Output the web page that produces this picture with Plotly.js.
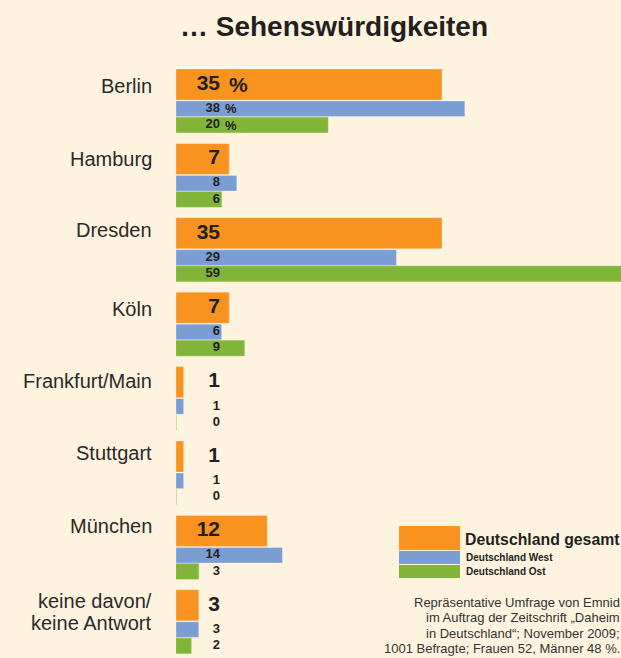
<!DOCTYPE html>
<html>
<head>
<meta charset="utf-8">
<script src="https://cdn.plot.ly/plotly-3.0.1.min.js"></script>
<style>
html,body{margin:0;padding:0;background:#fef3de;}
#chart{width:621px;height:658px;}
</style>
</head>
<body>
<div id="chart"></div>
<script>
// ---- data ----
const categories = ["Berlin", "Hamburg", "Dresden", "Köln", "Frankfurt/Main", "Stuttgart", "München", "keine davon/<br>keine Antwort"];
const gesamt = [35, 7, 35, 7, 1, 1, 12, 3];
const west   = [38, 8, 29, 6, 1, 1, 14, 3];
const ost    = [20, 6, 59, 9, 0, 0, 3, 2];
const seriesNames = ["Deutschland gesamt", "Deutschland West", "Deutschland Ost"];
const titleText = "… Sehenswürdigkeiten";
const noteLines = ["Repräsentative Umfrage von Emnid", "im Auftrag der Zeitschrift „Daheim", "in Deutschland“; November 2009;", "1001 Befragte; Frauen 52, Männer 48 %."];

// ---- styling / geometry ----
const W = 621, H = 658, ML = 176;
const PXU = 7.6;                     // pixels per percent
const ROW = 74.4;                    // pixels per category
const FIRST = 84.5;                  // pixel centre of first orange bar
const colors = ["#f7931e", "#7a9ed3", "#80b53a"];
const offsets = [0, 24.3 / ROW, 40.5 / ROW];
const widths = [31 / ROW, 15.6 / ROW, 15.4 / ROW];
const labelNudge = [1, 0, -3.8, 1, -1.5, -3.5, -5, -4.5];   // px, vertical nudge of category labels
const labelLineGap = 22.5;
const labelX = (220 - ML) / PXU;
const yTop = -FIRST / ROW;
const yBot = (H - FIRST) / ROW;
const px2x = p => (p - ML) / (W - ML);
const px2y = p => 1 - p / H;
const font = "Liberation Sans, Arial, Helvetica, sans-serif";
const ink = "#231f20";

const seriesVals = [gesamt, west, ost];
const traces = [];
seriesVals.forEach((vals, s) => {
  traces.push({
    type: "bar", orientation: "h", name: seriesNames[s],
    x: vals, y: categories.map((c, i) => i + offsets[s]),
    width: widths[s], base: 0,
    marker: {color: colors[s], line: {width: 0.8, color: s === 2 ? "rgba(150,200,90,0.7)" : "rgba(255,255,255,0.35)"}},
    hoverinfo: "skip", showlegend: false
  });
});
seriesVals.forEach((vals, s) => {
  traces.push({
    type: "scatter", mode: "text",
    x: vals.map(() => labelX), y: categories.map((c, i) => i + offsets[s]),
    text: vals.map(String), textposition: "middle left",
    textfont: {family: font, size: s === 0 ? 21 : 13, color: ink, weight: "bold"},
    cliponaxis: false, hoverinfo: "skip", showlegend: false
  });
});

const annotations = [];
// percent suffix on first row
seriesVals.forEach((vals, s) => {
  annotations.push({
    xref: "x", yref: "y", x: labelX, y: 0 + offsets[s], text: "%",
    xanchor: "left", yanchor: "middle", showarrow: false,
    xshift: s === 0 ? 7 : 3,
    font: {family: font, size: s === 0 ? 21 : 13, color: ink, weight: "bold"}
  });
});
// category labels
categories.forEach((c, i) => {
  const lines = c.split("<br>");
  lines.forEach((ln, k) => {
    const off = labelNudge[i] + k * labelLineGap;
    annotations.push({
      xref: "paper", yref: "y", x: px2x(154), y: i, yshift: -off,
      text: ln, xanchor: "right", yanchor: "middle", showarrow: false,
      font: {family: font, size: 20, color: "#2a2a2a"}
    });
  });
});
// legend texts
annotations.push({xref: "paper", yref: "paper", x: px2x(463), y: px2y(539), text: seriesNames[0], xanchor: "left", yanchor: "middle", showarrow: false, font: {family: font, size: 15.8, color: ink, weight: "bold"}});
annotations.push({xref: "paper", yref: "paper", x: px2x(464), y: px2y(557), text: seriesNames[1], xanchor: "left", yanchor: "middle", showarrow: false, font: {family: font, size: 10, color: ink, weight: "bold"}});
annotations.push({xref: "paper", yref: "paper", x: px2x(464), y: px2y(571), text: seriesNames[2], xanchor: "left", yanchor: "middle", showarrow: false, font: {family: font, size: 10, color: ink, weight: "bold"}});
// note
const noteY = [602, 617.5, 633, 648.5];
noteLines.forEach((t, k) => {
  annotations.push({xref: "paper", yref: "paper", x: px2x(622), y: px2y(noteY[k]), text: t,
    xanchor: "right", yanchor: "middle", showarrow: false, font: {family: font, size: 13, color: "#333"}});
});

const shapes = [
  {type: "rect", xref: "paper", yref: "paper", x0: px2x(399), x1: px2x(460), y0: px2y(526), y1: px2y(550), fillcolor: colors[0], line: {width: 0}},
  {type: "rect", xref: "paper", yref: "paper", x0: px2x(399), x1: px2x(460), y0: px2y(551), y1: px2y(564), fillcolor: colors[1], line: {width: 0}},
  {type: "rect", xref: "paper", yref: "paper", x0: px2x(399), x1: px2x(460), y0: px2y(565), y1: px2y(578), fillcolor: colors[2], line: {width: 0}}
];

const layout = {
  width: W, height: H,
  margin: {l: ML, r: 0, t: 0, b: 0, pad: 0},
  paper_bgcolor: "#fef3de", plot_bgcolor: "#fef3de",
  barmode: "overlay",
  title: {text: titleText, xref: "container", yref: "container", x: 334 / W, y: 1 - 26 / H, xanchor: "center", yanchor: "middle",
          font: {family: font, size: 28, color: ink, weight: "bold"}},
  xaxis: {range: [0, (W - ML) / PXU], showgrid: false, zeroline: false, showticklabels: false, showline: false, fixedrange: true},
  yaxis: {range: [yBot, yTop], showgrid: false, zeroline: false, showticklabels: false, showline: false, fixedrange: true},
  annotations: annotations, shapes: shapes, showlegend: false
};

Plotly.newPlot("chart", traces, layout, {displayModeBar: false, staticPlot: true});
</script>
</body>
</html>
